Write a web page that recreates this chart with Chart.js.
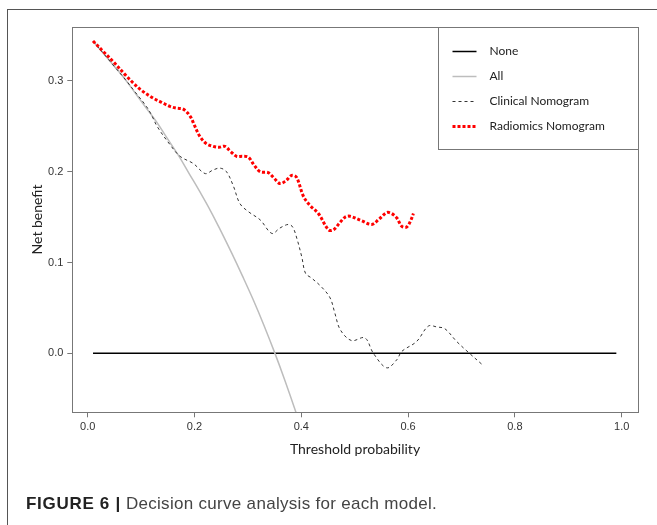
<!DOCTYPE html>
<html>
<head>
<meta charset="utf-8">
<script src="https://cdn.jsdelivr.net/npm/chart.js@4.4.1/dist/chart.umd.min.js"></script>
<style>
  html, body { margin: 0; padding: 0; background: #fff; }
  body { width: 657px; height: 525px; position: relative; overflow: hidden; }
  #frame { position: absolute; left: 7px; top: 9px; width: 700px; height: 600px;
           border-left: 1.5px solid #555; border-top: 1.5px solid #555; }
  #chartBox { position: absolute; left: 0; top: 0; width: 657px; height: 525px; }
  #caption { position: absolute; left: 26px; top: 494px; line-height: 20px; white-space: nowrap;
             font-family: "Liberation Sans", Arial, sans-serif; font-size: 17px; color: #444; letter-spacing: 0.3px; }
  #caption b { color: #222; letter-spacing: 0.7px; }
</style>
</head>
<body>
<div id="frame"></div>
<div id="chartBox"><canvas id="dcaChart" width="657" height="525"></canvas></div>
<div id="caption"><b>FIGURE 6 |</b> Decision curve analysis for each model.</div>
<script>
// values
const seriesLabels = ['None', 'All', 'Clinical Nomogram', 'Radiomics Nomogram'];
const xTicks = [0, 0.2, 0.4, 0.6, 0.8, 1.0];
const yTicks = [0, 0.1, 0.2, 0.3];

const noneX = [0.01, 0.99];
const noneY = [0, 0];

const allX = [0.01, 0.03, 0.05, 0.07, 0.09, 0.11, 0.13, 0.15, 0.17, 0.19, 0.21, 0.23, 0.25,
  0.27, 0.29, 0.31, 0.33, 0.35, 0.37, 0.39, 0.41];
const allY = [0.344, 0.330, 0.316, 0.302, 0.286, 0.270, 0.254, 0.236, 0.218, 0.198, 0.178, 0.157, 0.134,
  0.110, 0.085, 0.059, 0.031, 0.001, -0.031, -0.065, -0.101];

const clinicalX = [0.01, 0.03, 0.05, 0.07, 0.09, 0.11, 0.12, 0.13, 0.154, 0.173, 0.198, 0.22, 0.235,
  0.248, 0.26, 0.273, 0.285, 0.301, 0.323, 0.345, 0.36, 0.376, 0.384, 0.392, 0.401, 0.408, 0.419,
  0.438, 0.454, 0.463, 0.473, 0.494, 0.519, 0.535, 0.56, 0.579, 0.588, 0.616, 0.638, 0.654, 0.669,
  0.691, 0.713, 0.738];
const clinicalY = [0.344, 0.330, 0.316, 0.302, 0.287, 0.272, 0.262, 0.250, 0.230, 0.217, 0.209, 0.198, 0.202,
  0.204, 0.200, 0.184, 0.165, 0.156, 0.147, 0.132, 0.138, 0.142, 0.139, 0.126, 0.106, 0.088, 0.083,
  0.073, 0.061, 0.044, 0.026, 0.014, 0.017, 0.000, -0.016, -0.007, 0.002, 0.013, 0.030, 0.029, 0.027,
  0.013, 0.001, -0.012];

const radiomicsX = [0.01, 0.03, 0.05, 0.07, 0.085, 0.10, 0.123, 0.14, 0.154, 0.167, 0.179, 0.192, 0.20,
  0.21, 0.222, 0.235, 0.246, 0.257, 0.268, 0.279, 0.29, 0.301, 0.312, 0.323, 0.338, 0.349, 0.36,
  0.371, 0.382, 0.391, 0.404, 0.416, 0.432, 0.451, 0.46, 0.471, 0.482, 0.491, 0.513, 0.532, 0.546,
  0.56, 0.569, 0.579, 0.588, 0.597, 0.604, 0.61];
const radiomicsY = [0.344, 0.332, 0.320, 0.307, 0.298, 0.290, 0.281, 0.276, 0.272, 0.270, 0.269, 0.261, 0.251,
  0.239, 0.231, 0.228, 0.227, 0.228, 0.222, 0.217, 0.217, 0.216, 0.207, 0.200, 0.199, 0.193, 0.187,
  0.190, 0.196, 0.194, 0.173, 0.163, 0.154, 0.136, 0.136, 0.143, 0.150, 0.151, 0.146, 0.142, 0.148,
  0.155, 0.154, 0.149, 0.140, 0.139, 0.145, 0.154];

const toPoints = (xs, ys) => xs.map((x, i) => ({ x: x, y: ys[i] }));

// plot frame + R-style legend in the top right corner
const boxPlugin = {
  id: 'boxPlugin',
  afterDraw(chart) {
    const { ctx, chartArea } = chart;
    const l = Math.round(chartArea.left) + 0.5;
    const t = Math.round(chartArea.top) + 0.5;
    const r = Math.round(chartArea.right) + 0.5;
    const b = Math.round(chartArea.bottom) + 0.5;
    ctx.save();
    ctx.strokeStyle = '#777';
    ctx.lineWidth = 1;
    ctx.setLineDash([]);
    ctx.strokeRect(l, t, r - l, b - t);

    const legLeft = r - 200;
    const legBottom = t + 122;
    ctx.fillStyle = '#fff';
    ctx.fillRect(legLeft, t, r - legLeft, legBottom - t);
    ctx.strokeRect(legLeft, t, r - legLeft, legBottom - t);

    ctx.font = '12px Lato, "Open Sans", sans-serif';
    ctx.textBaseline = 'middle';
    ctx.textAlign = 'left';
    seriesLabels.forEach((label, i) => {
      const ds = chart.data.datasets.find(d => d.label === label);
      const y = Math.round(t + 23 + i * 25) + 0.5;
      ctx.strokeStyle = ds.borderColor;
      ctx.lineWidth = ds.borderWidth;
      ctx.setLineDash(ds.borderDash || []);
      ctx.beginPath();
      ctx.moveTo(legLeft + 14, y);
      ctx.lineTo(legLeft + 38, y);
      ctx.stroke();
      ctx.fillStyle = '#222';
      ctx.fillText(label, legLeft + 51, y);
    });
    ctx.restore();
  }
};

const ctx = document.getElementById('dcaChart').getContext('2d');
new Chart(ctx, {
  type: 'line',
  data: {
    datasets: [
      { label: 'None', data: toPoints(noneX, noneY), borderColor: '#000', borderWidth: 1.5, order: 3 },
      { label: 'All', data: toPoints(allX, allY), borderColor: '#bdbdbd', borderWidth: 1.5, tension: 0.4, order: 2 },
      { label: 'Clinical Nomogram', data: toPoints(clinicalX, clinicalY), borderColor: '#333',
        borderWidth: 1, borderDash: [3, 3], tension: 0.35, order: 1 },
      { label: 'Radiomics Nomogram', data: toPoints(radiomicsX, radiomicsY), borderColor: '#ff0000',
        borderWidth: 3, borderDash: [3, 2], tension: 0.35, order: 0 }
    ]
  },
  options: {
    responsive: false,
    animation: false,
    devicePixelRatio: 1,
    elements: { point: { radius: 0 } },
    layout: { padding: { left: 23, top: 26.7, right: 19.3, bottom: 65 } },
    plugins: {
      legend: { display: false },
      tooltip: { enabled: false }
    },
    scales: {
      x: {
        type: 'linear',
        min: -0.0288,
        max: 1.03,
        afterFit: (scale) => { scale.height = 47.7; },
        afterBuildTicks: (scale) => { scale.ticks = xTicks.map(v => ({ value: v })); },
        grid: { display: true, drawOnChartArea: false, drawTicks: true, tickLength: 5, color: '#777' },
        border: { display: false },
        ticks: {
          padding: 3,
          color: '#333',
          font: { family: '"Liberation Sans", Arial, sans-serif', size: 11 },
          callback: (v) => v.toFixed(1),
          maxRotation: 0
        },
        title: {
          display: true,
          text: 'Threshold probability',
          color: '#222',
          font: { family: 'Lato, "Open Sans", sans-serif', size: 14 },
          padding: { top: 0, bottom: 2.6 }
        }
      },
      y: {
        type: 'linear',
        min: -0.065,
        max: 0.3598,
        afterFit: (scale) => { scale.width = 49.3; },
        afterBuildTicks: (scale) => { scale.ticks = yTicks.map(v => ({ value: v })); },
        grid: { display: true, drawOnChartArea: false, drawTicks: true, tickLength: 5, color: '#777' },
        border: { display: false },
        ticks: {
          padding: 4,
          color: '#333',
          font: { family: '"Liberation Sans", Arial, sans-serif', size: 11 },
          callback: (v) => v.toFixed(1)
        },
        title: {
          display: true,
          text: 'Net benefit',
          color: '#222',
          font: { family: 'Lato, "Open Sans", sans-serif', size: 14 },
          padding: { top: 5.6, bottom: 0 }
        }
      }
    }
  },
  plugins: [boxPlugin]
});
</script>
</body>
</html>
